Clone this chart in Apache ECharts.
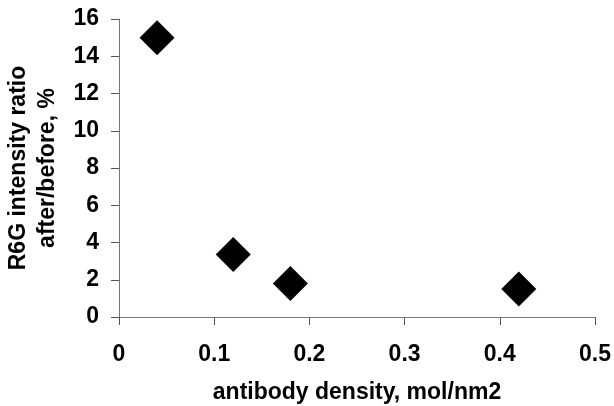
<!DOCTYPE html>
<html>
<head>
<meta charset="utf-8">
<script src="https://cdn.jsdelivr.net/npm/echarts@6/dist/echarts.min.js"></script>
<style>
html, body { margin: 0; padding: 0; background: #fff; }
#chart-container { width: 614px; height: 406px; }
</style>
</head>
<body>
<div id="chart-container"></div>
<script>
var density = [0.04, 0.12, 0.18, 0.42];
var ratio = [15, 3.35, 1.8, 1.5];

var points = density.map(function (d, i) { return [d, ratio[i]]; });

var dom = document.getElementById('chart-container');
var myChart = echarts.init(dom, null, { renderer: 'canvas' });

var labelFont = {
    color: '#000',
    fontFamily: 'Liberation Sans',
    fontWeight: 'bold',
    fontSize: 23
};

var option = {
    animation: false,
    backgroundColor: '#fff',
    grid: { left: 119, right: 19, top: 19, bottom: 89, outerBoundsMode: 'none', containLabel: false },
    xAxis: {
        type: 'value',
        min: 0,
        max: 0.5,
        interval: 0.1,
        name: 'antibody density, mol/nm2',
        nameLocation: 'middle',
        nameGap: 64,
        nameTextStyle: labelFont,
        splitLine: { show: false },
        axisLine: { lineStyle: { color: '#777', width: 1 } },
        axisTick: { show: true, length: 8, lineStyle: { color: '#555' } },
        axisLabel: Object.assign({ margin: 26 }, labelFont)
    },
    yAxis: {
        type: 'value',
        min: 0,
        max: 16,
        interval: 2,
        name: 'R6G intensity ratio\nafter/before, %',
        nameLocation: 'middle',
        nameGap: 56,
        nameTextStyle: Object.assign({ lineHeight: 29 }, labelFont),
        splitLine: { show: false },
        axisLine: { show: true, lineStyle: { color: '#777', width: 1 } },
        axisTick: { show: true, length: 8, lineStyle: { color: '#555' } },
        axisLabel: Object.assign({ margin: 20 }, labelFont)
    },
    series: [{
        type: 'scatter',
        data: points,
        symbol: 'diamond',
        symbolSize: 35,
        itemStyle: { color: '#000', opacity: 1 }
    }]
};

myChart.setOption(option);
window.addEventListener('resize', myChart.resize);
</script>
</body>
</html>
